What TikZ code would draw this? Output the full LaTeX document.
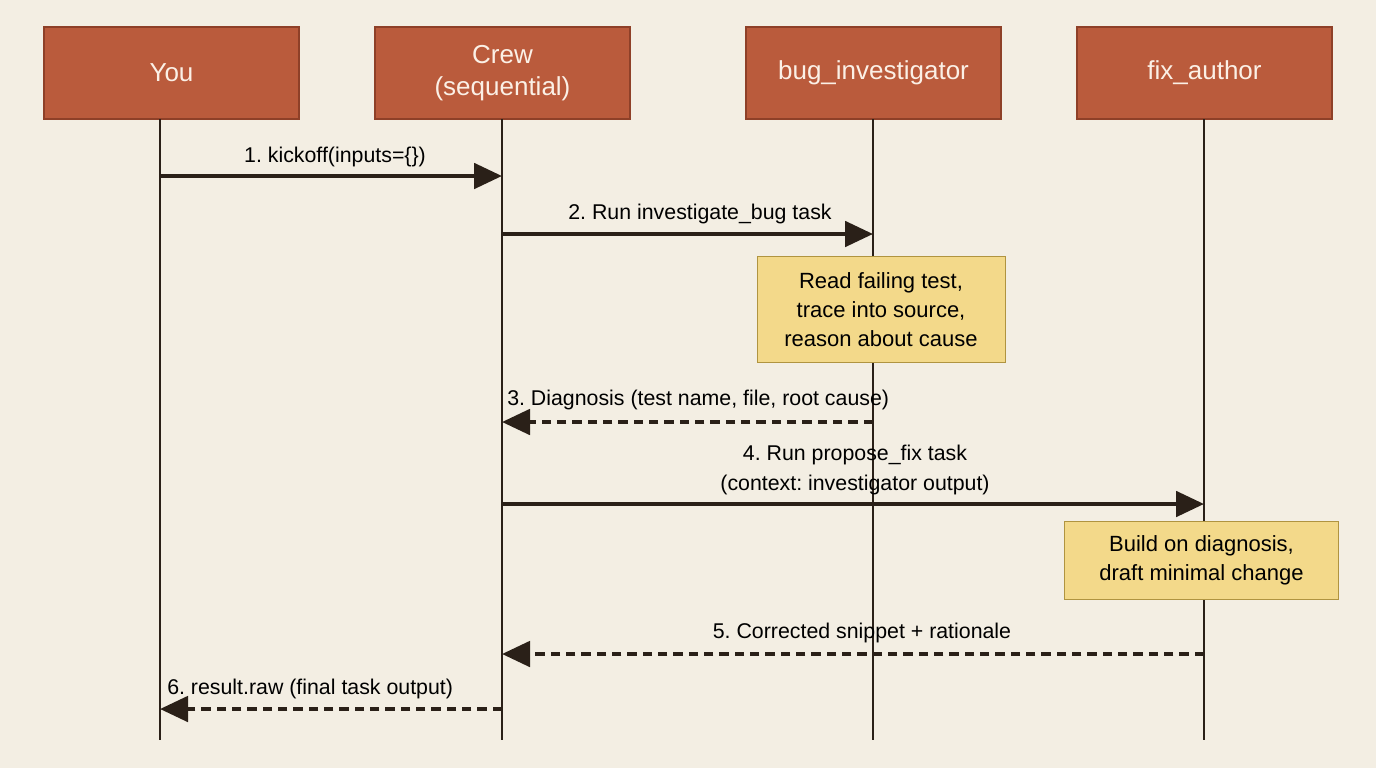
\documentclass[tikz,border=0pt]{standalone}
\usepackage{fontspec}
\setmainfont{Liberation Sans}
\usetikzlibrary{arrows.meta}
\definecolor{bg}{HTML}{F3EEE3}
\definecolor{hdr}{HTML}{BA5B3C}
\definecolor{hdrb}{HTML}{8E4028}
\definecolor{notef}{HTML}{F3D98A}
\definecolor{noteb}{HTML}{B09440}
\definecolor{ink}{HTML}{2A2018}
\definecolor{hdt}{HTML}{FBF0E6}
\begin{document}
\frenchspacing
\begin{tikzpicture}[x=0.75pt,y=-0.75pt,
  hd/.style={draw=hdrb,fill=hdr,line width=0.8pt,minimum width=191.25pt,minimum height=69pt,text=hdt,font=\fontsize{19.5}{24}\selectfont,align=center,inner sep=0pt},
  note/.style={draw=noteb,fill=notef,line width=0.6pt,align=center,font=\fontsize{16.5}{21.75}\selectfont,inner sep=0pt},
  life/.style={ink,line width=0.9pt},
  msg/.style={ink,line width=3pt,-{Triangle[length=21pt,width=19pt]}},
  ret/.style={msg,dash pattern=on 7pt off 4.5pt},
  lab/.style={font=\fontsize{16}{22.5}\selectfont,text=black,inner sep=0pt}]
\fill[bg] (0,0) rectangle (1376,768);
\useasboundingbox (0,0) rectangle (1376,768);
\node[hd] (you) at (171.5,73) {You};
\node[hd] (crew) at (502.5,73) {Crew\\(sequential)};
\node[hd] (bug) at (873.5,73) {bug\_investigator};
\node[hd] (fix) at (1204.5,73) {fix\_author};
\coordinate (y0) at (160,119); \coordinate (y1) at (160,740);
\coordinate (c0) at (502,119); \coordinate (c1) at (502,740);
\coordinate (b0) at (873,119); \coordinate (b1) at (873,740);
\coordinate (f0) at (1204,119); \coordinate (f1) at (1204,740);
\draw[life] (y0)--(y1); \draw[life] (c0)--(c1); \draw[life] (b0)--(b1); \draw[life] (f0)--(f1);
\node[note,minimum width=186pt,minimum height=80pt] (n1) at (881,309.5) {Read failing test,\\trace into source,\\reason about cause};
\node[note,minimum width=206pt,minimum height=59pt] (n2) at (1201.5,560.5) {Build on diagnosis,\\draft minimal change};
\coordinate (a1s) at (160,176); \coordinate (a1e) at (502,176);
\draw[msg] (a1s)--(a1e);
\node[lab] at (335,157) {1. kickoff(inputs=\{\})};
\coordinate (a2s) at (502,234); \coordinate (a2e) at (873,234);
\draw[msg] (a2s)--(a2e);
\node[lab] at (700,214) {2. Run investigate\_bug task};
\coordinate (a3s) at (873,422); \coordinate (a3e) at (502,422);
\draw[ret] (a3s)--(a3e);
\node[lab,anchor=west] at (507,400) {3. Diagnosis (test name, file, root cause)};
\coordinate (a4s) at (502,504); \coordinate (a4e) at (1204,504);
\draw[msg] (a4s)--(a4e);
\node[lab,align=center] at (855,470) {4. Run propose\_fix task\\(context: investigator output)};
\coordinate (a5s) at (1204,654); \coordinate (a5e) at (502,654);
\draw[ret] (a5s)--(a5e);
\node[lab] at (862,633) {5. Corrected snippet + rationale};
\coordinate (a6s) at (502,709); \coordinate (a6e) at (160,709);
\draw[ret] (a6s)--(a6e);
\node[lab,anchor=west] at (167,689) {6. result.raw (final task output)};
\end{tikzpicture}
\end{document}
